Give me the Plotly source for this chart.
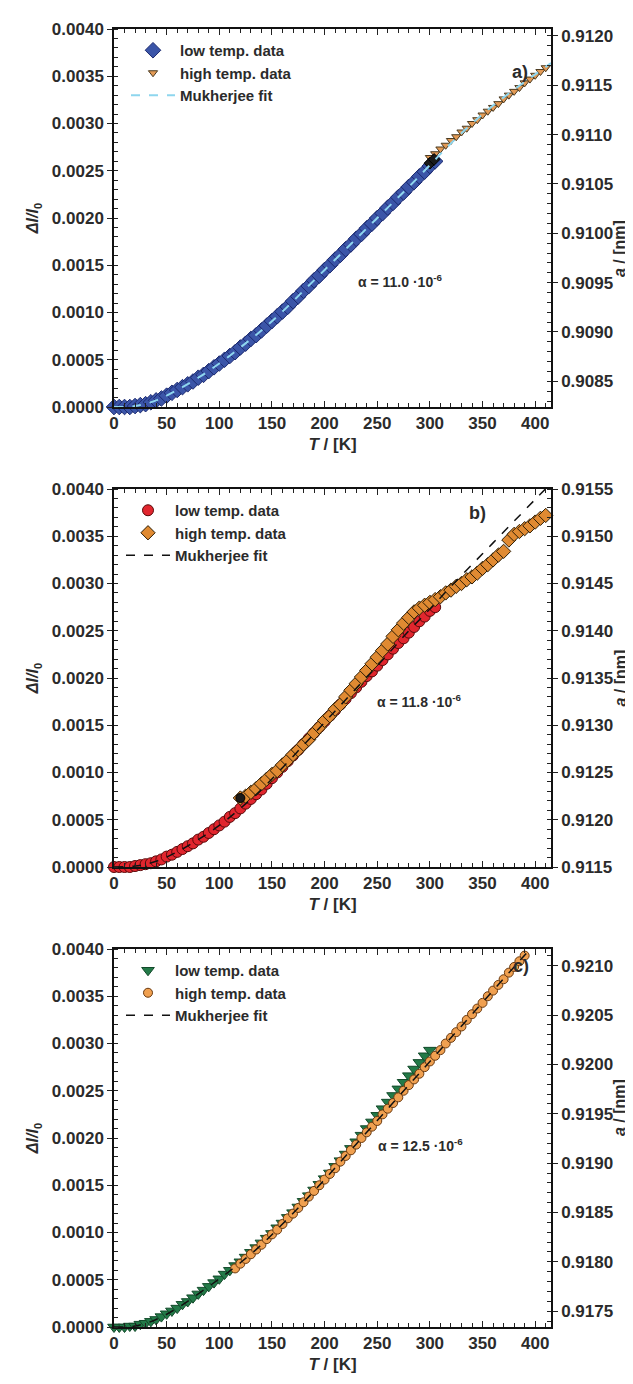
import plotly.graph_objects as go

# ---------------- data ----------------
# panel a
Ta_low = [0,5,10,15,20,25,30,35,40,45,50,55,60,65,70,75,80,85,90,95,100,105,110,115,120,125,130,135,140,145,150,
          155,160,165,170,175,180,185,190,195,200,205,210,215,220,225,230,235,240,245,250,255,260,265,270,275,280,285,290,295,300,305]
Da_low = [0.00000,0.00000,0.00000,0.00000,0.00001,0.00002,0.00003,0.00005,0.00007,0.00009,0.00012,0.00015,0.00018,0.00021,
          0.00024,0.00027,0.00031,0.00034,0.00038,0.00042,0.00046,0.00050,0.00054,0.00058,0.00063,0.00067,0.00072,0.00076,
          0.00081,0.00086,0.00091,0.00096,0.00101,0.00106,0.00112,0.00117,0.00123,0.00128,0.00134,0.00139,0.00145,0.00150,
          0.00156,0.00161,0.00167,0.00172,0.00178,0.00183,0.00189,0.00194,0.00200,0.00205,0.00211,0.00216,0.00222,0.00227,
          0.00233,0.00238,0.00244,0.00249,0.00255,0.00260]
Ta_high = [300,305,310,315,320,325,330,335,340,345,350,355,360,365,370,375,380,385,390,395,400,405,410]
Da_high = [0.00264,0.00268,0.00273,0.00277,0.00282,0.00286,0.00291,0.00295,0.00300,0.00304,0.00309,0.00313,0.00317,
           0.00321,0.00326,0.00330,0.00334,0.00338,0.00343,0.00347,0.00351,0.00355,0.00359]
Ta_join = [300,304]
Da_join = [0.00258,0.00262]
Ta_fit = [0,20,40,60,80,100,120,140,160,180,200,220,240,260,280,300,320,340,360,380,400,415]
Da_fit = [0.0,0.00001,0.00007,0.00018,0.00031,0.00046,0.00063,0.00081,0.00101,0.00123,0.00145,0.00167,0.00189,
          0.00211,0.00233,0.00256,0.00279,0.00300,0.00319,0.00336,0.00352,0.00364]

# panel b
Tb_low = [0,5,10,15,20,25,30,35,40,45,50,55,60,65,70,75,80,85,90,95,100,105,110,115,120,125,130,135,140,145,150,
          155,160,165,170,175,180,185,190,195,200,205,210,215,220,225,230,235,240,245,250,255,260,265,270,275,280,285,290,295,300,305]
Db_low = [0.0,0.0,0.0,0.0,0.00001,0.00002,0.00003,0.00004,0.00006,0.00008,0.00011,0.00013,0.00016,0.00019,0.00022,
          0.00025,0.00029,0.00032,0.00036,0.00040,0.00044,0.00048,0.00053,0.00057,0.00062,0.00067,0.00072,0.00077,
          0.00082,0.00088,0.00094,0.00100,0.00106,0.00112,0.00118,0.00124,0.00130,0.00136,0.00142,0.00148,0.00154,
          0.00160,0.00166,0.00172,0.00178,0.00184,0.00190,0.00196,0.00202,0.00207,0.00213,0.00219,0.00225,0.00231,
          0.00237,0.00242,0.00248,0.00254,0.00260,0.00265,0.00271,0.00275]
Tb_high = [120,125,130,135,140,145,150,155,160,165,170,175,180,185,190,195,200,205,210,215,220,225,230,235,240,245,
           250,255,260,265,270,275,280,285,290,295,300,305,310,315,320,325,330,335,340,345,350,355,360,365,370,375,
           380,385,390,395,400,405,410]
Db_high = [0.00073,0.00075,0.00079,0.00083,0.00088,0.00093,0.00098,0.00102,0.00108,0.00113,0.00119,0.00124,0.00130,
           0.00135,0.00142,0.00148,0.00155,0.00160,0.00167,0.00172,0.00180,0.00187,0.00194,0.00201,0.00208,0.00215,
           0.00222,0.00229,0.00236,0.00244,0.00251,0.00258,0.00264,0.00270,0.00274,0.00277,0.00280,0.00283,0.00286,
           0.00290,0.00293,0.00297,0.00300,0.00304,0.00307,0.00311,0.00316,0.00320,0.00325,0.00330,0.00334,0.00346,
           0.00352,0.00355,0.00358,0.00361,0.00365,0.00369,0.00372]
Tb_join = [120]
Db_join = [0.00073]
Tb_fit = [0,20,40,60,80,100,120,140,160,180,200,220,240,260,280,300,320,340,360,380,400,415]
Db_fit = [0.0,0.00001,0.00006,0.00016,0.00029,0.00044,0.00062,0.00082,0.00105,0.00129,0.00153,0.00177,0.00201,
          0.00225,0.00250,0.00273,0.00297,0.00320,0.00343,0.00366,0.00389,0.00406]

# panel c
Tc_low = [0,5,10,15,20,25,30,35,40,45,50,55,60,65,70,75,80,85,90,95,100,105,110,115,120,125,130,135,140,145,150,
          155,160,165,170,175,180,185,190,195,200,205,210,215,220,225,230,235,240,245,250,255,260,265,270,275,280,285,290,295,300]
Dc_low = [0.0,0.0,0.0,0.00001,0.00001,0.00003,0.00004,0.00006,0.00008,0.00011,0.00014,0.00017,0.00020,0.00024,
          0.00027,0.00031,0.00035,0.00039,0.00043,0.00047,0.00051,0.00056,0.00060,0.00065,0.00069,0.00074,0.00079,
          0.00084,0.00089,0.00094,0.00099,0.00105,0.00110,0.00116,0.00121,0.00127,0.00133,0.00139,0.00145,0.00151,
          0.00157,0.00163,0.00170,0.00176,0.00183,0.00189,0.00196,0.00203,0.00210,0.00217,0.00224,0.00231,0.00238,
          0.00245,0.00252,0.00259,0.00266,0.00273,0.00280,0.00287,0.00293]
Tc_high = [115,120,125,130,135,140,145,150,155,160,165,170,175,180,185,190,195,200,205,210,215,220,225,230,235,240,
           245,250,255,260,265,270,275,280,285,290,295,300,305,310,315,320,325,330,335,340,345,350,355,360,365,370,
           375,380,385,390]
Dc_high = [0.00062,0.00067,0.00072,0.00077,0.00082,0.00087,0.00093,0.00098,0.00103,0.00109,0.00115,0.00120,0.00126,
           0.00132,0.00138,0.00144,0.00150,0.00156,0.00162,0.00168,0.00175,0.00181,0.00187,0.00193,0.00200,0.00206,
           0.00212,0.00218,0.00225,0.00231,0.00237,0.00243,0.00250,0.00256,0.00262,0.00268,0.00275,0.00281,0.00287,
           0.00293,0.00300,0.00306,0.00312,0.00318,0.00325,0.00331,0.00337,0.00343,0.00350,0.00356,0.00362,0.00368,
           0.00375,0.00381,0.00387,0.00393]
Tc_fit = [0,20,40,60,80,100,120,140,160,180,200,220,240,260,280,300,320,340,360,380,400]
Dc_fit = [0.0,0.00001,0.00008,0.00020,0.00035,0.00051,0.00068,0.00087,0.00109,0.00132,0.00156,0.00181,0.00206,
          0.00231,0.00256,0.00281,0.00306,0.00331,0.00356,0.00381,0.00406]

panel_labels = ["a)", "b)", "c)"]
alpha_texts = ["α = 11.0 ·10<sup>-6</sup>", "α = 11.8 ·10<sup>-6</sup>", "α = 12.5 ·10<sup>-6</sup>"]
right_ranges = [[0.90824, 0.91207], [0.9115, 0.9155], [0.91734, 0.92117]]
left_ticks = [0.0, 0.0005, 0.0010, 0.0015, 0.0020, 0.0025, 0.0030, 0.0035, 0.0040]
x_ticks = [0, 50, 100, 150, 200, 250, 300, 350, 400]
series_names = ["low temp. data", "high temp. data", "Mukherjee fit"]
right_title = "<b><i>a</i> / [nm]</b>"

# ---------------- layout geometry ----------------
W, H = 633, 1384
ML, MR, MT, MB = 106, 90, 21, 65
PH = H - MT - MB
PW = W - ML - MR
panel_tops = [21, 481, 941]
panel_h = 378
XMAX = 415
label_pos = [(522, 52), (480, 505), (523, 970)]
alpha_pos = [(436, 262), (455, 693), (457, 1148)]
legend_left = [118, 113, 113]
right_title_x = 622

def py(p):
    return 1 - (p - MT) / PH

def px(p):
    return (p - ML) / PW

FONT = "Liberation Sans"
TXT = "#2b2b2b"
tickfont = dict(family=FONT, size=17, color=TXT, weight="bold")

fig = go.Figure()

styles = [
    (dict(symbol="diamond", size=12, color="#3b55a8", line=dict(color="#1c2a70", width=1)),
     dict(symbol="triangle-down", size=8, color="#e39a55", line=dict(color="#4a3a20", width=1)),
     dict(color="#8ed6ee", width=2, dash="dash")),
    (dict(symbol="circle", size=11, color="#e1262e", line=dict(color="#5a0a0a", width=1)),
     dict(symbol="diamond", size=11, color="#e08a32", line=dict(color="#2e1e05", width=1)),
     dict(color="#111111", width=1.5, dash="dash")),
    (dict(symbol="triangle-down", size=11, color="#237a48", line=dict(color="#124a2a", width=1)),
     dict(symbol="circle", size=9, color="#f0a050", line=dict(color="#6a3a10", width=1)),
     dict(color="#111111", width=1.5, dash="dash")),
]
data = [
    (Ta_low, Da_low, Ta_high, Da_high, Ta_fit, Da_fit, Ta_join, Da_join),
    (Tb_low, Db_low, Tb_high, Db_high, Tb_fit, Db_fit, Tb_join, Db_join),
    (Tc_low, Dc_low, Tc_high, Dc_high, Tc_fit, Dc_fit, None, None),
]

for i in range(3):
    tl, dl, th, dh, tf, df, tj, dj = data[i]
    mlow, mhigh, lfit = styles[i]
    xa = "x" if i == 0 else f"x{i+1}"
    ya = "y" if i == 0 else f"y{2*i+1}"
    leg = "legend" if i == 0 else f"legend{i+1}"
    fig.add_trace(go.Scatter(x=tl, y=dl, mode="markers", marker=mlow, name=series_names[0],
                             xaxis=xa, yaxis=ya, legend=leg, cliponaxis=False))
    fig.add_trace(go.Scatter(x=th, y=dh, mode="markers", marker=mhigh, name=series_names[1],
                             xaxis=xa, yaxis=ya, legend=leg, cliponaxis=False))
    if tj is not None:
        fig.add_trace(go.Scatter(x=tj, y=dj, mode="markers", showlegend=False, hoverinfo="skip",
                                 marker=dict(symbol=mlow["symbol"], size=9, color="#1a1a1a",
                                             line=dict(color="#000000", width=1)),
                                 xaxis=xa, yaxis=ya, cliponaxis=False))
    fig.add_trace(go.Scatter(x=tf, y=df, mode="lines", line=dict(shape="spline", **lfit), name=series_names[2],
                             xaxis=xa, yaxis=ya, legend=leg))
    # placeholder trace so the right-hand a-axis is drawn
    fig.add_trace(go.Scatter(x=[None], y=[None], xaxis=xa, yaxis=f"y{2*i+2}", showlegend=False, hoverinfo="skip"))

layout = dict(width=W, height=H, margin=dict(l=ML, r=MR, t=MT, b=MB),
              paper_bgcolor="white", plot_bgcolor="white", showlegend=True,
              font=dict(family=FONT, color=TXT))
annotations = []
for i in range(3):
    top = panel_tops[i]
    bot = top + panel_h
    dom = [py(bot), py(top)]
    xk = "xaxis" if i == 0 else f"xaxis{i+1}"
    yl = "yaxis" if i == 0 else f"yaxis{2*i+1}"
    yr = f"yaxis{2*i+2}"
    xname = "x" if i == 0 else f"x{i+1}"
    ylname = "y" if i == 0 else f"y{2*i+1}"
    layout[xk] = dict(domain=[0, 1], anchor=ylname, range=[0, XMAX], tickvals=x_ticks,
                      ticks="inside", ticklen=6, tickwidth=1.2, tickcolor="#222",
                      minor=dict(dtick=10, tick0=0, ticks="inside", ticklen=4, tickcolor="#222", tickwidth=1),
                      showline=True, linecolor="#111", linewidth=1.5, mirror="ticks",
                      showgrid=False, zeroline=False, tickfont=tickfont,
                      title=dict(text="<b><i>T</i> / [K]</b>", font=dict(family=FONT, size=17, color=TXT), standoff=6))
    layout[yl] = dict(domain=dom, anchor=xname, range=[0, 0.004], tickvals=left_ticks, tickformat=".4f",
                      ticks="outside", ticklen=5, tickwidth=1.2, tickcolor="#222",
                      minor=dict(dtick=0.0001, tick0=0, ticks="inside", ticklen=4, tickcolor="#222", tickwidth=1),
                      showline=True, linecolor="#111", linewidth=1.5, mirror=False,
                      showgrid=False, zeroline=False, tickfont=tickfont,
                      title=dict(text="<b><i>Δl/l</i><sub>0</sub></b>", font=dict(family=FONT, size=16, color=TXT), standoff=9))
    rr = right_ranges[i]
    layout[yr] = dict(overlaying=ylname, side="right", anchor=xname, range=rr, dtick=0.0005, tick0=0.9,
                      tickformat=".4f", ticks="outside", ticklen=5, tickwidth=1.2, tickcolor="#222",
                      minor=dict(dtick=0.0001, tick0=0.9, ticks="inside", ticklen=4, tickcolor="#222", tickwidth=1),
                      showline=True, linecolor="#111", linewidth=1.5, showgrid=False, zeroline=False,
                      tickfont=tickfont)
    annotations.append(dict(x=px(right_title_x), y=py(top + panel_h / 2), xref="paper", yref="paper",
                            text=right_title, textangle=-90, showarrow=False,
                            font=dict(family=FONT, size=16, color=TXT)))
    leg = "legend" if i == 0 else f"legend{i+1}"
    layout[leg] = dict(x=px(legend_left[i]), y=py(top + 5), xanchor="left", yanchor="top", bgcolor="rgba(0,0,0,0)",
                       font=dict(family=FONT, size=15, color=TXT, weight="bold"),
                       itemwidth=44, tracegroupgap=0)
    lx, ly = label_pos[i]
    annotations.append(dict(x=px(lx), y=py(ly), xref="paper", yref="paper", text="<b>" + panel_labels[i] + "</b>",
                            showarrow=False, font=dict(family=FONT, size=18, color=TXT)))
    ax_, ay_ = alpha_pos[i]
    annotations.append(dict(x=px(ax_), y=py(ay_), xref="paper", yref="paper", text="<b>" + alpha_texts[i] + "</b>",
                            showarrow=False, font=dict(family=FONT, size=14, color=TXT)))

layout["annotations"] = annotations
fig.update_layout(**layout)
fig.write_html("out.html")
